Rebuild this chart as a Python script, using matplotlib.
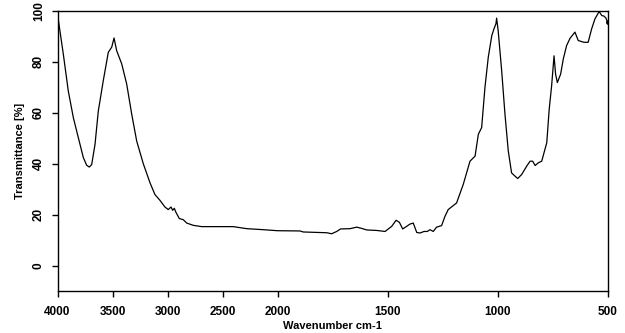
import numpy as np
import matplotlib
matplotlib.use("Agg")
import matplotlib.pyplot as plt

wavenumber = [3995, 3947, 3902, 3856, 3811, 3765, 3735, 3711, 3689, 3659, 3629, 3584,
              3538, 3507, 3486, 3462, 3416, 3371, 3325, 3280, 3220, 3159, 3114, 3068,
              3023, 2993, 2968, 2953, 2938, 2923, 2893, 2856, 2825, 2765, 2689, 2402,
              2280, 2129, 2000, 1898, 1883, 1776, 1754, 1731, 1713, 1670, 1640, 1617,
              1595, 1549, 1511, 1496, 1481, 1461, 1446, 1431, 1413, 1398, 1383, 1367,
              1352, 1334, 1319, 1307, 1292, 1277, 1254, 1239, 1224, 1186, 1156, 1125,
              1102, 1087, 1072, 1057, 1042, 1026, 1016, 1007, 1004, 997, 981, 966,
              951, 936, 920, 908, 890, 867, 852, 840, 829, 814, 799, 776,
              765, 754, 743, 736, 728, 713, 701, 686, 670, 648, 633, 607,
              588, 572, 557, 538, 526, 516, 507, 500]
transmittance = [97.3, 83.0, 68.6, 58.1, 50.3, 42.4, 39.4, 38.7, 39.7, 47.6, 60.7, 72.6,
                 83.8, 85.8, 89.4, 84.4, 79.2, 71.3, 59.4, 48.9, 40.0, 32.5, 27.9, 25.6,
                 23.0, 22.0, 23.0, 21.7, 22.5, 20.9, 18.5, 18.0, 16.7, 15.8, 15.3, 15.3,
                 14.5, 14.1, 13.7, 13.6, 13.2, 12.9, 12.5, 13.4, 14.4, 14.5, 15.1, 14.6,
                 14.0, 13.8, 13.4, 14.4, 15.4, 17.8, 17.0, 14.4, 15.4, 16.3, 16.7, 13.0,
                 12.8, 13.4, 13.4, 14.1, 13.4, 15.1, 15.7, 19.3, 22.0, 24.6, 31.8, 41.0,
                 43.0, 51.6, 54.2, 70.0, 81.8, 90.3, 93.0, 95.0, 97.2, 92.3, 76.5, 59.4,
                 45.0, 36.4, 35.1, 34.2, 35.8, 39.1, 41.0, 41.0, 39.3, 40.4, 41.0, 48.3,
                 61.4, 70.6, 82.4, 75.2, 71.9, 75.2, 81.1, 86.4, 89.3, 91.7, 88.4, 87.7,
                 87.7, 93.0, 96.9, 99.8, 98.2, 98.0, 97.2, 95.6]

x_ticks = [4000, 3500, 3000, 2500, 2000, 1500, 1000, 500]
y_ticks = [0, 20, 40, 60, 80, 100]

plt.rcParams['font.family'] = ['Liberation Sans', 'DejaVu Sans']


def fwd(x):
    x = np.asarray(x, dtype=float)
    return np.where(x <= 2000, x, 2000 + (x - 2000) / 2.0)


def inv(y):
    y = np.asarray(y, dtype=float)
    return np.where(y <= 2000, y, 2000 + (y - 2000) * 2.0)


fig = plt.figure(figsize=(6.25, 3.33), dpi=100)
ax = fig.add_axes([0.092, 0.126, 0.880, 0.841])
ax.set_xscale('function', functions=(fwd, inv))
ax.plot(wavenumber, transmittance, color='black', lw=0.9)
ax.plot([wavenumber[-1]], [transmittance[-1]], 'o', color='black', ms=2.5)
ax.set_xlim(4000, 500)
ax.set_ylim(-10, 100)
ax.set_xticks(x_ticks)
ax.set_xticklabels([str(t) for t in x_ticks])
ax.minorticks_off()
ax.set_yticks(y_ticks)
ax.set_yticklabels([str(t) for t in y_ticks], rotation=90, va='center')
for lab in ax.get_xticklabels() + ax.get_yticklabels():
    lab.set_fontweight('bold')
    lab.set_fontsize(8.5)
ax.tick_params(axis='x', length=4, width=1, pad=7)
ax.tick_params(axis='y', length=4, width=1, pad=5)
for s in ax.spines.values():
    s.set_linewidth(1.0)
ax.set_xlabel('Wavenumber cm-1', fontsize=8, fontweight='bold', labelpad=2)
ax.set_ylabel('Transmittance [%]', fontsize=8, fontweight='bold', labelpad=6)
fig.savefig('out.png', dpi=100)
